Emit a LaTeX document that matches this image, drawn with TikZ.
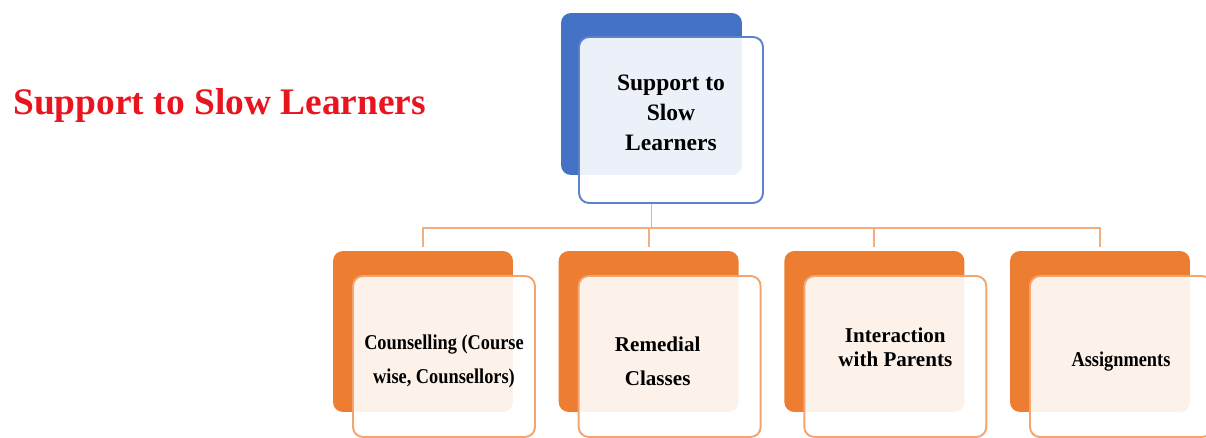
\documentclass[tikz,border=0pt]{standalone}
\usepackage{fontspec}
\setmainfont{Liberation Serif}
\newfontfamily\narrowfont[FakeStretch=0.87]{Liberation Serif}
\usetikzlibrary{positioning}
\definecolor{boxblue}{HTML}{4472C4}
\definecolor{lineblue}{HTML}{5B83CD}
\definecolor{boxorange}{HTML}{ED7D31}
\definecolor{lineorange}{HTML}{F4A46E}
\definecolor{linkorange}{HTML}{F4AE7E}
\definecolor{titlered}{HTML}{E8141E}
\tikzstyle{back} = [rectangle, rounded corners=0.2cm, inner sep=0pt,
minimum width=3.6cm, minimum height=3.22cm]
\tikzstyle{rootback} = [back, fill=boxblue, minimum width=3.62cm, minimum height=3.24cm]
\tikzstyle{leafback} = [back, fill=boxorange, node distance=0.9cm]
\tikzstyle{front} = [back, fill=white, fill opacity=0.9, text opacity=1,
line width=1.1pt, align=center]
\tikzstyle{rootfront} = [front, draw=lineblue, minimum width=3.68cm, minimum height=3.32cm,
font=\fontsize{13.4}{17}\selectfont\bfseries]
\tikzstyle{leaffront} = [front, draw=lineorange, minimum width=3.64cm,
font=\fontsize{12}{19}\selectfont\bfseries]
\tikzstyle{narrow} = [font=\narrowfont\fontsize{12}{19}\selectfont\bfseries]
\tikzstyle{link} = [draw=linkorange, line width=1.1pt]
\tikzstyle{title} = [text=titlered, inner sep=0pt, font=\fontsize{21.3}{25}\selectfont\bfseries]
\newcommand{\branch}[3]{ %
  % Hang all boxes #3 from root #1 (front #2).
  \foreach \y in {#3} { %
    \draw[link, shorten >=2pt] (#1 |- #2.south) -- ++(0,-0.48cm) -| (\y.north) ;%
  } ;
}

\begin{document}
\begin{tikzpicture}[x=0.02cm, y=-0.02cm]
  \useasboundingbox (0,0) rectangle (1206,438);

  \node[title, anchor=base west] (head) at (13,115) {Support to Slow Learners};

  \node[rootback] (rb) at (651.5,94) {};
  \node[leafback] (c1) at (423,331.5) {};
  \node[leafback, right=of c1] (c2) {};
  \node[leafback, right=of c2] (c3) {};
  \node[leafback, right=of c3] (c4) {};

  \node[rootfront, text depth=8pt, xshift=0.39cm, yshift=-0.52cm] (rf) at (rb) {Support to\\Slow\\Learners};
  \node[leaffront, narrow, text height=33pt, xshift=0.42cm, yshift=-0.5cm] (f1) at (c1) {Counselling (Course\\wise, Counsellors)};
  \node[leaffront, text height=33pt, xshift=0.42cm, yshift=-0.5cm] (f2) at (c2) {Remedial\hspace*{0.48cm}\\Classes\hspace*{0.48cm}};
  \node[leaffront, font=\fontsize{12}{13.6}\selectfont\bfseries, text depth=11pt, xshift=0.42cm, yshift=-0.5cm] (f3) at (c3) {Interaction\\with Parents};
  \node[leaffront, narrow, text height=14pt, xshift=0.42cm, yshift=-0.5cm] (f4) at (c4) {Assignments};

  \branch {rb} {rf} {c1,c2,c3,c4};
\end{tikzpicture}
\end{document}
